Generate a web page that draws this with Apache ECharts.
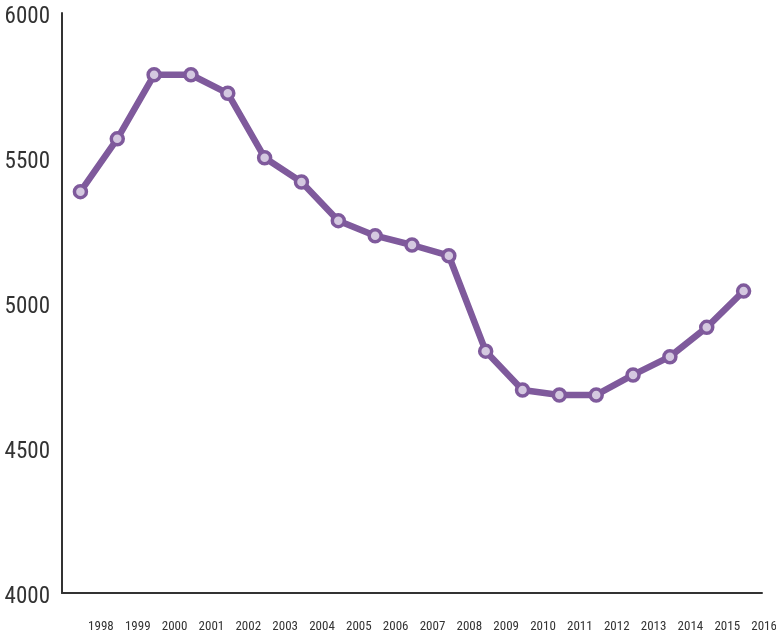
<!DOCTYPE html>
<html>
<head>
<meta charset="utf-8">
<script src="https://cdn.jsdelivr.net/npm/echarts@6/dist/echarts.min.js"></script>
<style>
html, body { margin: 0; padding: 0; background: #fff; }
#chart { width: 776px; height: 640px; }
</style>
</head>
<body>
<div id="chart"></div>
<script>
// 年份与数值
var years = ['1998', '1999', '2000', '2001', '2002', '2003', '2004', '2005', '2006', '2007',
    '2008', '2009', '2010', '2011', '2012', '2013', '2014', '2015', '2016'];
var values = [5384, 5566, 5787, 5787, 5723, 5501, 5417, 5284, 5232, 5200,
    5163, 4834, 4700, 4683, 4683, 4752, 4815, 4916, 5041];

var font = "'Roboto Condensed', sans-serif";

var chart = echarts.init(document.getElementById('chart'), null, {renderer: 'canvas'});

var option = {
    animation: false,
    grid: {
        left: 62,
        right: 14,
        top: 13,
        bottom: 47,
        outerBoundsMode: 'none'
    },
    xAxis: {
        type: 'category',
        data: years,
        boundaryGap: true,
        axisLine: {lineStyle: {color: '#333', width: 2}},
        axisTick: {show: false},
        axisLabel: {
            interval: 0,
            hideOverlap: false,
            color: '#333',
            fontFamily: font,
            fontSize: 13,
            margin: 27,
            padding: [0, 0, 0, 41] // 标签整体右移
        },
        splitLine: {show: false}
    },
    yAxis: {
        type: 'value',
        min: 4000,
        max: 6000,
        interval: 500,
        axisLine: {show: true, lineStyle: {color: '#333', width: 2}},
        axisTick: {show: false},
        axisLabel: {
            formatter: function (v) { return '{v|' + v + '}'; },
            margin: 12,
            rich: {
                v: {
                    color: '#333',
                    fontFamily: font,
                    fontSize: 23,
                    padding: [9, 0, 0, 0] // 标签略微下移
                }
            }
        },
        splitLine: {show: false}
    },
    series: [
        {
            type: 'line',
            data: values,
            symbol: 'circle',
            symbolSize: 12,
            lineStyle: {color: '#7f5a9c', width: 6.5},
            itemStyle: {color: '#d4c8e0', borderColor: '#7f5a9c', borderWidth: 3.5}
        }
    ]
};
chart.setOption(option);
</script>
</body>
</html>
